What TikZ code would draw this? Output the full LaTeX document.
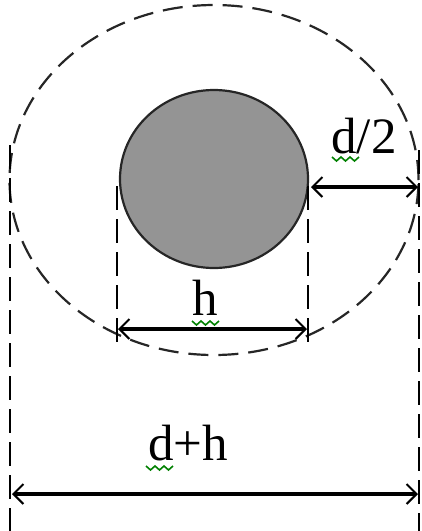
\documentclass[tikz,border=0pt]{standalone}
\usepackage{fontspec}
\setmainfont{Liberation Serif}
\usetikzlibrary{arrows.meta,shapes.geometric}

\begin{document}
\begin{tikzpicture}[
  x=1pt, y=-1pt,
  every node/.style={inner sep=0pt, font=\fontsize{51}{51}\selectfont},
  guide/.style={black, line width=2.6pt, dash pattern=on 24pt off 9pt},
  dimline/.style={black, line width=3.2pt, {Straight Barb[length=10pt,width=20pt,line width=2pt]}-{Straight Barb[length=10pt,width=20pt,line width=2pt]}},
  squiggle/.style={green!50!black, line width=1.6pt}
]
  \useasboundingbox (0,0) rectangle (422,531);

  % ==========================================
  % 1. CIRCULOS
  % ==========================================

  % zona exterior (discontinua)
  \node[ellipse, draw=black!85, line width=2.2pt, dash pattern=on 20pt off 10pt,
        minimum width=409pt, minimum height=350pt] (zone) at (214,180) {};

  % barra (gris)
  \node[ellipse, draw=black!85, fill=black!42, line width=2.2pt,
        minimum width=188pt, minimum height=178pt] (bar) at (214,179) {};

  % ==========================================
  % 2. LINEAS DE REFERENCIA
  % ==========================================
  \coordinate (hl top) at (117,186);
  \coordinate (hl bot) at (117,342);
  \coordinate (hr top) at (308,186);
  \coordinate (hr bot) at (308,342);
  \coordinate (dl top) at (10,145);
  \coordinate (dl bot) at (10,531);
  \coordinate (dr top) at (419,150);
  \coordinate (dr bot) at (419,531);

  \draw[guide] (hl top) -- (hl bot);
  \draw[guide] (hr top) -- (hr bot);
  \draw[guide] (dl top) -- (dl bot);
  \draw[guide] (dr top) -- (dr bot);

  % ==========================================
  % 3. COTAS
  % ==========================================
  \coordinate (h a) at (118,329);
  \coordinate (h b) at (307,329);
  \coordinate (r a) at (311,187);
  \coordinate (r b) at (418,187);
  \coordinate (t a) at (12,494);
  \coordinate (t b) at (418,494);

  \draw[dimline] (h a) -- (h b);
  \draw[dimline] (r a) -- (r b);
  \draw[dimline] (t a) -- (t b);

  \node[anchor=base] (lab h)  at (205,315) {h};
  \node[anchor=base] (lab r)  at (364,153) {d/2};
  \node[anchor=base] (lab dh) at (188,460) {d+h};

  % subrayado del corrector
  \draw[squiggle] (332,157) -- ++(4.5,4) -- ++(4.5,-4) -- ++(4.5,4) -- ++(4.5,-4) -- ++(4.5,4) -- ++(4.5,-4);
  \draw[squiggle] (192,321) -- ++(4.5,4) -- ++(4.5,-4) -- ++(4.5,4) -- ++(4.5,-4) -- ++(4.5,4) -- ++(4.5,-4);
  \draw[squiggle] (146,466) -- ++(4.5,4) -- ++(4.5,-4) -- ++(4.5,4) -- ++(4.5,-4) -- ++(4.5,4) -- ++(4.5,-4);

\end{tikzpicture}
\end{document}
